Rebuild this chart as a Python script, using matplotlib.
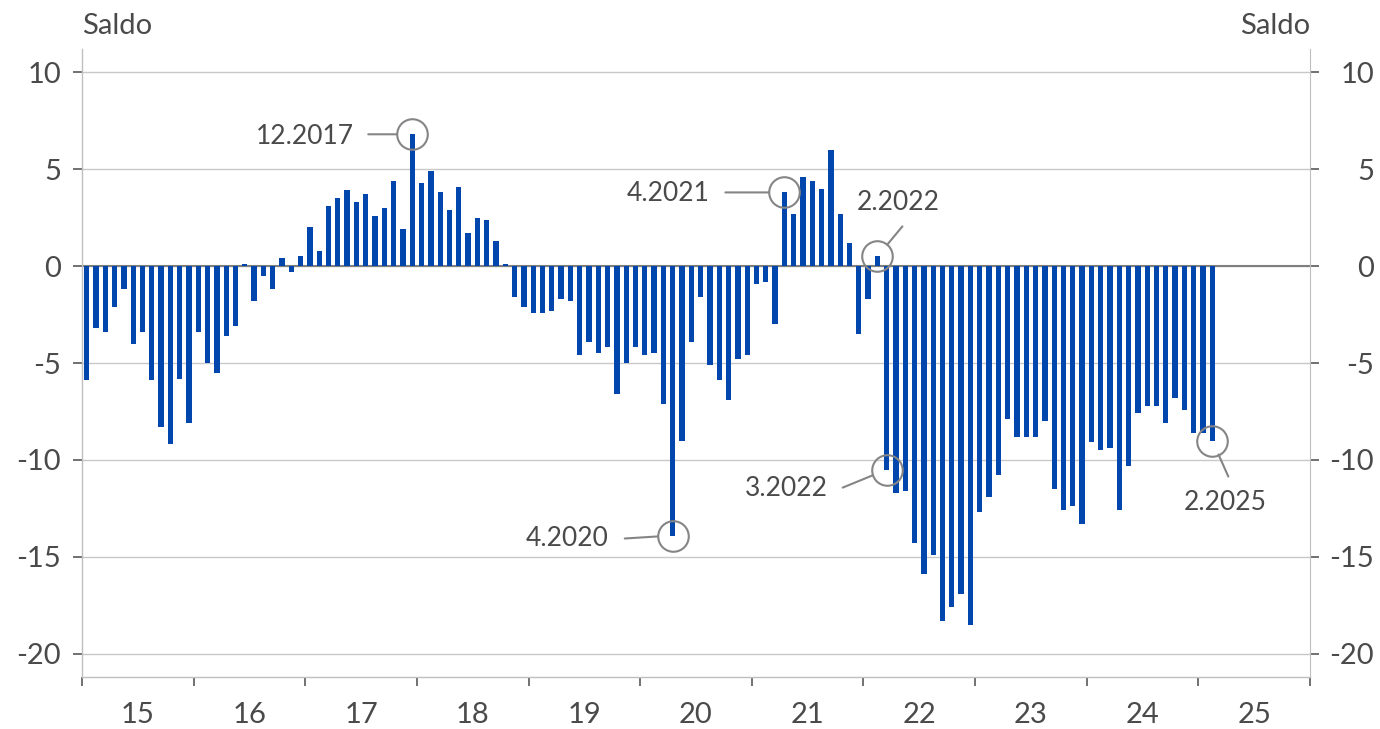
import matplotlib
matplotlib.use('Agg')
import matplotlib.pyplot as plt
import numpy as np

plt.rcParams['font.family'] = ['Lato', 'DejaVu Sans']
plt.rcParams['font.weight'] = 'normal'
plt.rcParams['axes.unicode_minus'] = False

# Saldo per Monat, Jan 2015 .. Feb 2025
saldo_2015 = [-5.9, -3.2, -3.4, -2.1, -1.2, -4.0, -3.4, -5.9, -8.3, -9.2, -5.8, -8.1]
saldo_2016 = [-3.4, -5.0, -5.5, -3.6, -3.1, 0.1, -1.8, -0.5, -1.2, 0.4, -0.3, 0.5]
saldo_2017 = [2.0, 0.8, 3.1, 3.5, 3.9, 3.3, 3.7, 2.6, 3.0, 4.4, 1.9, 6.8]
saldo_2018 = [4.3, 4.9, 3.8, 2.9, 4.1, 1.7, 2.5, 2.4, 1.3, 0.1, -1.6, -2.1]
saldo_2019 = [-2.4, -2.4, -2.3, -1.7, -1.8, -4.6, -3.9, -4.5, -4.2, -6.6, -5.0, -4.2]
saldo_2020 = [-4.6, -4.5, -7.1, -13.9, -9.0, -3.9, -1.6, -5.1, -5.9, -6.9, -4.8, -4.6]
saldo_2021 = [-0.9, -0.8, -3.0, 3.8, 2.7, 4.6, 4.4, 4.0, 6.0, 2.7, 1.2, -3.5]
saldo_2022 = [-1.7, 0.5, -10.5, -11.7, -11.6, -14.3, -15.9, -14.9, -18.3, -17.6, -16.9, -18.5]
saldo_2023 = [-12.7, -11.9, -10.8, -7.9, -8.8, -8.8, -8.8, -8.0, -11.5, -12.6, -12.4, -13.3]
saldo_2024 = [-9.1, -9.5, -9.4, -12.6, -10.3, -7.6, -7.2, -7.2, -8.1, -6.8, -7.4, -8.6]
saldo_2025 = [-8.6, -9.0]

years = list(range(2015, 2026))
year_labels = ['15', '16', '17', '18', '19', '20', '21', '22', '23', '24', '25']
y_ticks = [-20, -15, -10, -5, 0, 5, 10]
annot_labels = ['12.2017', '4.2020', '4.2021', '2.2022', '3.2022', '2.2025']

values = (saldo_2015 + saldo_2016 + saldo_2017 + saldo_2018 + saldo_2019 + saldo_2020
          + saldo_2021 + saldo_2022 + saldo_2023 + saldo_2024 + saldo_2025)
months = np.arange(len(values))
x = 2015 + (months + 0.5) / 12

blue = '#0046AD'
txt = '#4a4a4a'
grey = '#858585'

fig = plt.figure(figsize=(13.8, 7.29), dpi=100)
ax = fig.add_axes([82 / 1380, 52 / 729, 1228 / 1380, 628 / 729])

ax.bar(x, values, width=0.57 / 12, color=blue, zorder=3)
ax.axhline(0, color='#7f7f7f', lw=1.5, zorder=2)
ax.set_xlim(2015, 2026)
ax.set_ylim(-21.2, 11.2)
ax.set_yticks(y_ticks)
ax.set_yticklabels([str(v) for v in y_ticks])
ax.grid(axis='y', color='#c8c8c8', lw=1, zorder=0)

for s in ['top', 'right']:
    ax.spines[s].set_visible(False)
for s in ['left', 'bottom']:
    ax.spines[s].set_color('#bfbfbf')
    ax.spines[s].set_linewidth(1)

ax.set_xticks(years + [2026])
ax.set_xticks([y + 0.5 for y in years], minor=True)
ax.set_xticklabels(year_labels, minor=True)
ax.tick_params(axis='x', which='major', length=6.5, width=1.2, color='#595959', labelbottom=False)
ax.tick_params(axis='x', which='minor', length=0, pad=18, labelsize=21, labelcolor=txt)
ax.tick_params(axis='y', length=6.5, width=1.2, color='#595959', pad=8.5, labelsize=21, labelcolor=txt)

# rechte Achse
ax2 = ax.twinx()
ax2.set_ylim(ax.get_ylim())
ax2.set_yticks(y_ticks)
ax2.set_yticklabels([str(v) for v in y_ticks])
for s in ['top', 'left', 'bottom']:
    ax2.spines[s].set_visible(False)
ax2.spines['right'].set_color('#bfbfbf')
ax2.tick_params(axis='y', length=6.5, width=1.2, color='#595959', pad=39.5, labelsize=21, labelcolor=txt)
for lab in ax2.get_yticklabels():
    lab.set_horizontalalignment('right')

fig.text(82 / 1380, 1 - 26 / 729, 'Saldo', ha='left', va='center', fontsize=21, color=txt)
fig.text(1310 / 1380, 1 - 26 / 729, 'Saldo', ha='right', va='center', fontsize=21, color=txt)

# Markierungen
offsets = {
    '12.2017': ((-58, -2), (-44, 0), 'right'),
    '4.2020': ((-64, -3), (-48, -3), 'right'),
    '4.2021': ((-75, -1), (-59, 0), 'right'),
    '2.2022': ((21, 54), (25, 30), 'center'),
    '3.2022': ((-59, -19), (-44, -18), 'right'),
    '2.2025': ((13, -62), (16, -36), 'center'),
}
for lab in annot_labels:
    m, yr = lab.split('.')
    i = (int(yr) - 2015) * 12 + int(m) - 1
    xv, yv = x[i], values[i]
    t_off, l_off, ha = offsets[lab]
    ax.plot(xv, yv, 'o', ms=22, mfc='none', mec=grey, mew=1.5, zorder=5)
    ax.annotate('', xy=(xv, yv), xytext=l_off, textcoords='offset pixels',
                arrowprops=dict(arrowstyle='-', color=grey, lw=1.5, shrinkA=0, shrinkB=11))
    ax.annotate(lab, xy=(xv, yv), xytext=t_off, textcoords='offset pixels',
                ha=ha, va='center', fontsize=19, color=txt)

fig.savefig('out.png', dpi=100)
